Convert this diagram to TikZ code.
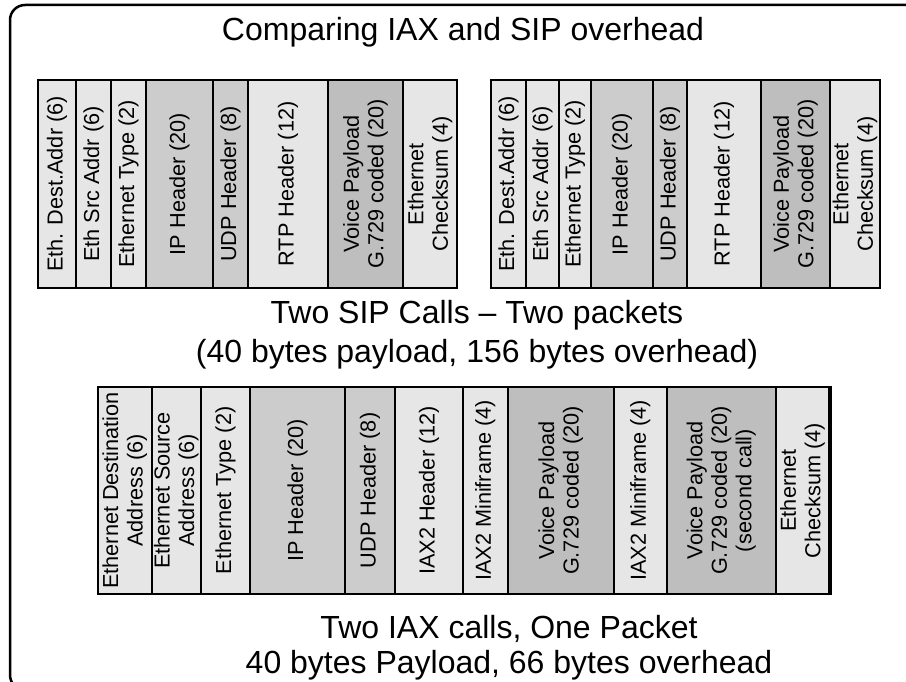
\documentclass[tikz,border=0pt]{standalone}
\usepackage{fontspec}
\setmainfont{Liberation Sans}
\definecolor{lightc}{HTML}{E6E6E6}
\definecolor{midc}{HTML}{CCCCCC}
\definecolor{darkc}{HTML}{BEBEBE}
\begin{document}
\begin{tikzpicture}[x=1pt,y=-1pt,
  cell/.style={draw=black, line width=2pt, rotate=90, inner sep=0pt, align=center,
    font=\fontsize{21.7}{24.5}\selectfont},
  bigtext/.style={font=\fontsize{32}{36}\selectfont, inner sep=0pt, anchor=base},
  frame/.style={draw=black, line width=2.5pt, rounded corners=15pt}]
\useasboundingbox (0,0) rectangle (906,682);
\clip (0,0) rectangle (906,682);
\fill[white] (0,0) rectangle (906,682);
% outer frame (cut by the page at right and bottom)
\draw[frame] (10,5) rectangle (930,690);
% title
\node[bigtext] (title) at (463,41) {Comparing IAX and SIP overhead};
% top-left SIP packet
\foreach \a/\b/\c/\t [count=\i] in {
  38/76/lightc/{Eth. Dest.Addr (6)},
  76/111/lightc/{Eth Src Addr (6)},
  111/146/lightc/{Ethernet Type (2)},
  146/213/midc/{IP Header (20)},
  213/248/midc/{UDP Header (8)},
  248/328/lightc/{RTP Header (12)},
  328/403/darkc/{Voice Payload\\G.729 coded (20)},
  403/457/lightc/{Ethernet\\Checksum (4)}} {
  \node[cell, fill=\c, minimum width=208pt, minimum height={(\b-\a)*1pt}] (sa\i) at ({(\a+\b)/2},184) {\t};
}
% top-right SIP packet
\foreach \a/\b/\c/\t [count=\i] in {
  491/526/lightc/{Eth. Dest.Addr (6)},
  526/559/lightc/{Eth Src Addr (6)},
  559/591/lightc/{Ethernet Type (2)},
  591/653/midc/{IP Header (20)},
  653/687/midc/{UDP Header (8)},
  687/761/lightc/{RTP Header (12)},
  761/830/darkc/{Voice Payload\\G.729 coded (20)},
  830/880/lightc/{Ethernet\\Checksum (4)}} {
  \node[cell, fill=\c, minimum width=208pt, minimum height={(\b-\a)*1pt}] (sb\i) at ({(\a+\b)/2},184) {\t};
}
% SIP caption
\node[bigtext] (sipone) at (477,323) {Two SIP Calls – Two packets};
\node[bigtext] (siptwo) at (477,362) {(40 bytes payload, 156 bytes overhead)};
% bottom IAX packet
\foreach \a/\b/\c/\t [count=\i] in {
  98/151.5/lightc/{Ethernet Destination\\Address (6)},
  151.5/201/lightc/{Ethernet Source\\Address (6)},
  201/250/lightc/{Ethernet Type (2)},
  250/345/midc/{IP Header (20)},
  345/395/midc/{UDP Header (8)},
  395/463/lightc/{IAX2 Header (12)},
  463/507.5/lightc/{IAX2 Miniframe (4)},
  507.5/614/darkc/{Voice Payload\\G.729 coded (20)},
  614/666.5/lightc/{IAX2 Miniframe (4)},
  666.5/776/darkc/{Voice Payload\\G.729 coded (20)\\(second call)},
  776/829/lightc/{Ethernet\\Checksum (4)}} {
  \node[cell, fill=\c, minimum width=207pt, minimum height={(\b-\a)*1pt}] (ia\i) at ({(\a+\b)/2},490.5) {\t};
}
\draw[line width=4pt] (ia11.south west) -- (ia11.south east);
% IAX caption
\node[bigtext] (iaxone) at (509,638) {Two IAX calls, One Packet};
\node[bigtext] (iaxtwo) at (509,673) {40 bytes Payload, 66 bytes overhead};
\end{tikzpicture}
\end{document}
